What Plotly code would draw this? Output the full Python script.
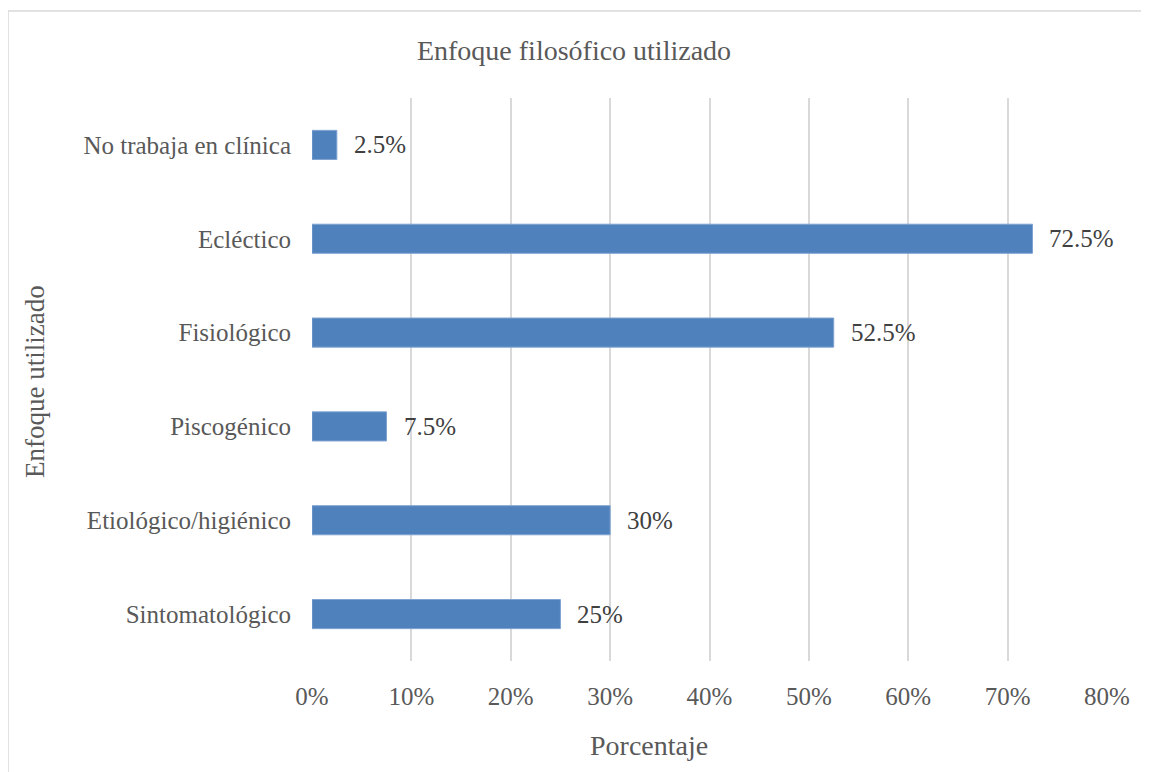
import plotly.graph_objects as go

categories = ["Sintomatológico", "Etiológico/higiénico", "Piscogénico",
              "Fisiológico", "Ecléctico", "No trabaja en clínica"]
values = [25, 30, 7.5, 52.5, 72.5, 2.5]
labels = ["25%", "30%", "7.5%", "52.5%", "72.5%", "2.5%"]
tick_vals = [0, 10, 20, 30, 40, 50, 60, 70, 80]
tick_text = ["0%", "10%", "20%", "30%", "40%", "50%", "60%", "70%", "80%"]

FONT = "Liberation Serif"

fig = go.Figure(go.Bar(
    y=categories, x=values, orientation="h",
    marker=dict(color="#4f81bd", line=dict(color="#7fa3d1", width=1)),
    hoverinfo="skip",
))

# page has an 8px body margin, so figure coords = screen coords - 8
W, H = 1141, 764
L, R, T, B = 304, 42, 90, 111
pw, ph = W - L - R, H - T - B

def px_x(p):
    return (p - L) / pw

def px_y(p):
    return (H - B - p) / ph

annotations = [
    dict(x=v, y=c, xref="x", yref="y", text=t, showarrow=False,
         xanchor="left", yanchor="middle", xshift=15,
         font=dict(family=FONT, size=25, color="#404040"))
    for c, v, t in zip(categories, values, labels)
]
annotations += [
    dict(x=px_x(641), y=px_y(737), xref="paper", yref="paper", text="Porcentaje",
         showarrow=False, xanchor="center", yanchor="middle",
         font=dict(family=FONT, size=28, color="#595959")),
    dict(x=px_x(27), y=px_y(374), xref="paper", yref="paper", text="Enfoque utilizado",
         showarrow=False, xanchor="center", yanchor="middle", textangle=-90,
         font=dict(family=FONT, size=27, color="#595959")),
]

fig.update_layout(
    width=W, height=H,
    margin=dict(l=L, r=R, t=T, b=B, pad=0),
    paper_bgcolor="white", plot_bgcolor="white",
    bargap=0.69,
    showlegend=False,
    annotations=annotations,
    title=dict(text="Enfoque filosófico utilizado", x=566 / W, xanchor="center",
               y=1 - 42 / H, yanchor="middle",
               font=dict(family=FONT, size=28, color="#595959")),
    xaxis=dict(range=[0, 80], tickvals=tick_vals, ticktext=tick_text,
               showgrid=True, gridcolor="#d9d9d9", gridwidth=2, zeroline=False,
               showline=False, ticks="", ticklabelstandoff=18,
               tickfont=dict(family=FONT, size=25, color="#595959")),
    yaxis=dict(showgrid=False, zeroline=False, showline=False, ticks="",
               ticklabelstandoff=20,
               tickfont=dict(family=FONT, size=25, color="#595959")),
    shapes=[dict(type="rect", xref="paper", yref="paper",
                 x0=px_x(0), x1=px_x(1160), y0=px_y(790), y1=px_y(3),
                 line=dict(color="#d9d9d9", width=1.5), fillcolor="rgba(0,0,0,0)",
                 layer="below")],
)

fig.write_html("out.html")
